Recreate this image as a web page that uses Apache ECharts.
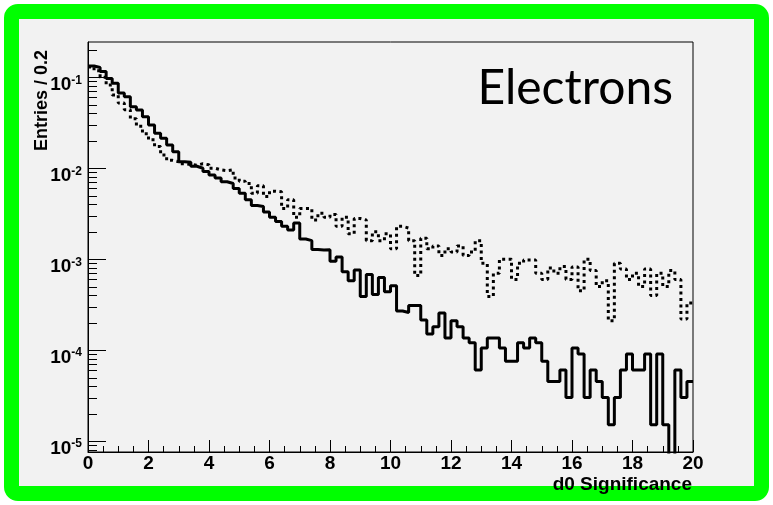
<!DOCTYPE html>
<html>
<head>
<meta charset="utf-8">
<script src="https://cdn.jsdelivr.net/npm/echarts@6/dist/echarts.min.js"></script>
<style>
  html, body { margin: 0; padding: 0; background: #ffffff; }
  #frame {
    position: absolute; left: 4px; top: 4px; width: 765px; height: 497px;
    box-sizing: border-box; border: 15px solid #00ff00; border-radius: 14px;
    background: #f2f2f2;
  }
  #chart { position: absolute; left: 0; top: 0; width: 773px; height: 505px; }
</style>
</head>
<body>
<div id="frame"></div>
<div id="chart"></div>
<script>
// d0 significance histograms, 100 bins of width 0.2 on [0, 20], unit-normalised
const binWidth = 0.2;
const xMin = 0;
const xMax = 20;
const yMin = 7.6e-6;
const yMax = 0.244;

// solid histogram
const solidValues = [
  0.133, 0.128, 0.116, 0.097, 0.086, 0.067, 0.061, 0.0475, 0.0437, 0.0369,
  0.0299, 0.0242, 0.0214, 0.0180, 0.0152, 0.0118, 0.0116, 0.0105, 0.0100, 0.0092,
  0.0084, 0.0078, 0.0071, 0.0068, 0.0060, 0.0053, 0.0045, 0.0039, 0.0038, 0.0033,
  0.0029, 0.0026, 0.0023, 0.0021, 0.0025, 0.00167, 0.0016, 0.00128, 0.00126, 0.00127,
  0.00095, 0.00106, 0.00073, 0.00058, 0.00076, 0.00039, 0.00068, 0.00041, 0.00063, 0.00044,
  0.00051, 0.00027, 0.00026, 0.00031, 0.00031, 0.000215, 0.000151, 0.000181, 0.000257, 0.000136,
  0.000211, 0.000181, 0.000136, 0.000121, 0.0000604, 0.000106, 0.000136, 0.000136, 0.000106, 0.0000755,
  0.0000755, 0.000121, 0.000106, 0.000136, 0.000121, 0.0000755, 0.0000453, 0.0000453, 0.0000604, 0.0000302,
  0.000106, 0.0000906, 0.0000302, 0.0000604, 0.0000453, 0.0000302, 0.0000151, 0.0000302, 0.0000604, 0.0000906,
  0.0000604, 0.0000604, 0.0000906, 0.0000151, 0.0000906, 0.0000151, 0, 0.0000604, 0.0000302, 0.0000453
];

// dotted histogram
const dottedValues = [
  0.130, 0.118, 0.100, 0.082, 0.064, 0.052, 0.044, 0.035, 0.029, 0.024,
  0.0205, 0.0173, 0.0140, 0.0122, 0.0118, 0.0112, 0.0110, 0.0108, 0.0112, 0.0109,
  0.0100, 0.0096, 0.0094, 0.0096, 0.0078, 0.0072, 0.0068, 0.0053, 0.0064, 0.0049,
  0.0056, 0.0055, 0.0036, 0.0045, 0.0029, 0.0036, 0.0036, 0.0027, 0.0032, 0.0029,
  0.0031, 0.0023, 0.0029, 0.0019, 0.0028, 0.0027, 0.0016, 0.0020, 0.0016, 0.0019,
  0.0013, 0.0023, 0.0022, 0.0016, 0.00066, 0.0017, 0.0013, 0.0014, 0.0011, 0.0013,
  0.0012, 0.0014, 0.0011, 0.0012, 0.0016, 0.0009, 0.00039, 0.0007, 0.0010, 0.0010,
  0.0006, 0.0009, 0.00098, 0.00098, 0.0007, 0.0006, 0.0008, 0.0007, 0.00083, 0.0006,
  0.00082, 0.00045, 0.0010, 0.00075, 0.0005, 0.00058, 0.00021, 0.0009, 0.00078, 0.0006,
  0.0007, 0.0005, 0.00078, 0.0004, 0.0007, 0.0005, 0.00075, 0.0006, 0.00022, 0.00033
];

// y axis ticks
const yMajorTicks = [1e-5, 1e-4, 1e-3, 1e-2, 1e-1];
const yMinorMultipliers = [2, 3, 4, 5, 6, 7, 8, 9];
const yMinorDecades = [1e-6, 1e-5, 1e-4, 1e-3, 1e-2, 1e-1];

const titleText = 'Electrons';
const xTitle = 'd0 Significance';
const yTitle = 'Entries / 0.2';

const FONT = '"Liberation Sans", Arial, Helvetica, sans-serif';

// empty bins are pushed below the log axis so the step drops to the frame
const emptyFloor = yMin / 10;

function stepPoints(values) {
  const pts = values.map(function (v, i) {
    return [Math.round(i * binWidth * 1000) / 1000, v > 0 ? v : emptyFloor];
  });
  const last = values[values.length - 1];
  pts.push([xMax, last > 0 ? last : emptyFloor]);
  return pts;
}

const yTickData = [];
yMajorTicks.forEach(function (v) { yTickData.push([0, v, 18]); });
yMinorDecades.forEach(function (d) {
  yMinorMultipliers.forEach(function (m) {
    const v = m * d;
    if (v > yMin && v < yMax) yTickData.push([0, v, 9]);
  });
});

const chart = echarts.init(document.getElementById('chart'), null, { renderer: 'canvas' });

chart.setOption({
  animation: false,
  backgroundColor: 'transparent',
  title: {
    text: titleText,
    right: 100,
    top: 65,
    padding: 0,
    textStyle: {
      fontFamily: 'Lato, "Open Sans", sans-serif',
      fontSize: 48,
      fontWeight: 'normal',
      color: '#000'
    }
  },
  graphic: [
    {
      type: 'text',
      x: 42,
      y: 50,
      rotation: Math.PI / 2,
      silent: true,
      style: {
        text: yTitle,
        fill: '#000',
        font: 'bold 18px ' + FONT,
        textAlign: 'right',
        textVerticalAlign: 'middle'
      }
    }
  ],
  grid: {
    left: 88, top: 42, width: 605, height: 410,
    outerBoundsMode: 'none',
    containLabel: false,
    show: true, borderColor: '#000', borderWidth: 1,
    backgroundColor: 'transparent'
  },
  xAxis: {
    type: 'value',
    min: xMin, max: xMax, interval: 2,
    axisLine: { show: true, lineStyle: { color: '#000', width: 1 } },
    axisTick: { show: true, inside: true, length: 12, lineStyle: { color: '#000' } },
    minorTick: { show: true, splitNumber: 4, length: 6, lineStyle: { color: '#000' } },
    splitLine: { show: false },
    axisLabel: {
      margin: 2,
      color: '#000',
      fontFamily: FONT,
      fontWeight: 'bold',
      fontSize: 19
    },
    name: xTitle,
    nameLocation: 'end',
    nameGap: -1,
    nameTextStyle: {
      fontFamily: FONT,
      fontWeight: 'bold',
      fontSize: 19,
      color: '#000',
      align: 'right',
      verticalAlign: 'top',
      padding: [23, 0, 0, 0]
    }
  },
  yAxis: {
    type: 'log',
    logBase: 10,
    min: yMin, max: yMax,
    axisLine: { show: true, lineStyle: { color: '#000', width: 1 } },
    axisTick: { show: false },
    splitLine: { show: false },
    axisLabel: {
      showMinLabel: false,
      showMaxLabel: false,
      margin: 6,
      padding: [14, 0, 0, 0],
      formatter: function (v) {
        const e = Math.round(Math.log10(v));
        return '{b|10}{s|' + e + '}';
      },
      rich: {
        b: {
          fontFamily: FONT, fontWeight: 'bold', fontSize: 19,
          lineHeight: 20, verticalAlign: 'bottom', color: '#000'
        },
        s: {
          fontFamily: FONT, fontWeight: 'bold', fontSize: 12,
          lineHeight: 12, verticalAlign: 'top', padding: [0, 0, 11, 0], color: '#000'
        }
      }
    }
  },
  series: [
    {
      name: 'dotted',
      type: 'line',
      step: 'end',
      data: stepPoints(dottedValues),
      showSymbol: false,
      symbol: 'none',
      clip: true,
      lineStyle: { color: '#000', width: 3, type: [3, 3.5], cap: 'butt' },
      z: 3
    },
    {
      name: 'solid',
      type: 'line',
      step: 'end',
      data: stepPoints(solidValues),
      showSymbol: false,
      symbol: 'none',
      clip: true,
      lineStyle: { color: '#000', width: 3, type: 'solid' },
      z: 4
    },
    {
      name: 'yticks',
      type: 'custom',
      data: yTickData,
      encode: { x: 0, y: 1 },
      clip: true,
      silent: true,
      z: 5,
      renderItem: function (params, api) {
        const p = api.coord([api.value(0), api.value(1)]);
        const len = api.value(2);
        const y = Math.round(p[1]) + 0.5;
        return {
          type: 'line',
          shape: { x1: p[0], y1: y, x2: p[0] + len, y2: y },
          style: { stroke: '#000', lineWidth: 1 }
        };
      }
    }
  ]
});
</script>
</body>
</html>
